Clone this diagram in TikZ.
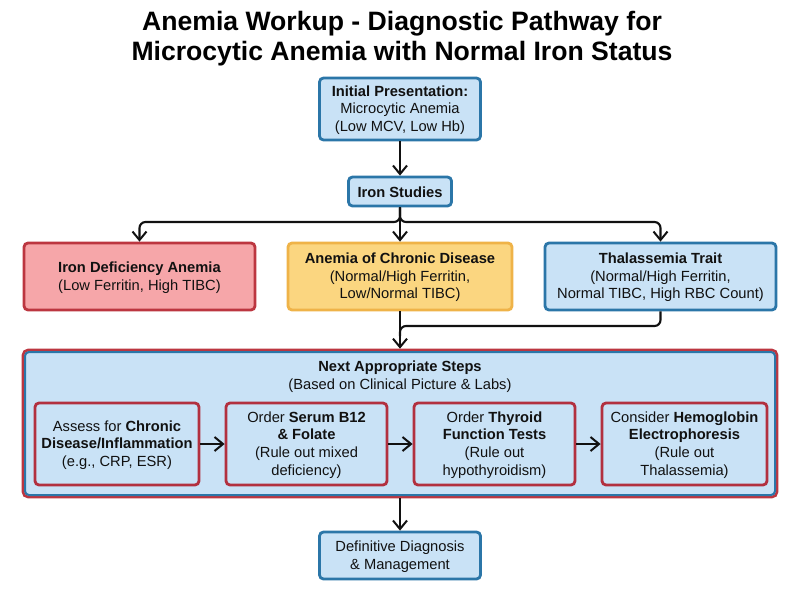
\documentclass[tikz,border=0pt]{standalone}
\usepackage{fontspec}
\setmainfont{Liberation Sans}
\usetikzlibrary{arrows.meta}
\definecolor{bluefill}{HTML}{C9E2F6}
\definecolor{blueedge}{HTML}{2B76A8}
\definecolor{redfill}{HTML}{F6A6A9}
\definecolor{rededge}{HTML}{BC3640}
\definecolor{yelfill}{HTML}{FBD680}
\definecolor{yeledge}{HTML}{EFB348}
\definecolor{inred}{HTML}{B2303F}
\definecolor{ink}{HTML}{111111}
\tikzset{
  x=1pt,y=-1pt,
  box/.style={draw=blueedge,fill=bluefill,line width=2.8pt,rounded corners=4pt,align=center,inner sep=0pt,text=ink,
    font=\fontsize{14.7}{17.6}\selectfont},
  redbox/.style={box,draw=rededge,fill=redfill},
  yelbox/.style={box,draw=yeledge,fill=yelfill},
  stepbox/.style={box,draw=inred},
  arr/.style={draw=ink,line width=2.1pt,-{Straight Barb[length=8.5pt,width=14pt,line width=2pt]}},
  lin/.style={draw=ink,line width=2.1pt},
}
\newcommand{\boxat}[7]{\node[#1,minimum width=#5pt-#3pt,minimum height=#6pt-#4pt] (#2) at ({(#3+#5)/2},{(#4+#6)/2}) {\rule{0pt}{12.5pt}#7};}
\begin{document}
\begin{tikzpicture}
\useasboundingbox (0,0) rectangle (800,600);
\fill[white] (0,0) rectangle (800,600);
\node[align=center,font=\fontsize{26.6}{30}\bfseries\selectfont,text=black,inner sep=0pt] (title) at (402,38.5)
  {Anemia Workup - Diagnostic Pathway for\\Microcytic Anemia with Normal Iron Status};
\boxat{box}{init}{319.5}{78}{480.5}{140}{\textbf{Initial Presentation:}\\Microcytic Anemia\\(Low MCV, Low Hb)}
\boxat{box}{iron}{348.5}{177}{451.5}{206}{\textbf{Iron Studies}}
\boxat{redbox}{ida}{24}{243}{255}{310}{\textbf{Iron Deficiency Anemia}\\(Low Ferritin, High TIBC)}
\boxat{yelbox}{acd}{288}{243}{512}{310}{\textbf{Anemia of Chronic Disease}\\(Normal/High Ferritin,\\Low/Normal TIBC)}
\boxat{box}{thal}{545}{243}{776}{310}{\textbf{Thalassemia Trait}\\(Normal/High Ferritin,\\Normal TIBC, High RBC Count)}
\boxat{box,draw=rededge,line width=2.6pt,rounded corners=5pt}{nextouter}{23}{350}{777}{497}{}
\boxat{box,line width=2pt,rounded corners=4pt}{nextinner}{25}{352}{775}{495}{}
\node[align=center,inner sep=0pt,text=ink,font=\fontsize{14.7}{17.6}\selectfont] (nexttitle) at (400,376.5)
  {\textbf{Next Appropriate Steps}\\(Based on Clinical Picture \& Labs)};
\boxat{stepbox}{s1}{35}{403}{199}{485}{Assess for \textbf{Chronic}\\\textbf{Disease/Inflammation}\\(e.g., CRP, ESR)}
\boxat{stepbox}{s2}{226}{403}{387}{485}{Order \textbf{Serum B12}\\\textbf{\& Folate}\\(Rule out mixed\\deficiency)}
\boxat{stepbox}{s3}{414}{403}{575}{485}{Order \textbf{Thyroid}\\\textbf{Function Tests}\\(Rule out\\hypothyroidism)}
\boxat{stepbox}{s4}{602}{403}{767}{485}{Consider \textbf{Hemoglobin}\\\textbf{Electrophoresis}\\(Rule out\\Thalassemia)}
\boxat{box}{final}{319.5}{532}{480.5}{579}{Definitive Diagnosis\\\& Management}
\coordinate (split) at (400,222);
\coordinate (merge) at (400,326);
\draw[arr] (init) -- (iron);
\draw[arr,rounded corners=6pt] (iron.south) -- (split) -| (ida.north);
\draw[arr,rounded corners=6pt] (iron.south) -- (split) -| (thal.north);
\draw[arr] (iron.south) -- (acd.north);
\draw[arr] (acd.south) -- (nextouter.north);
\draw[lin,rounded corners=6pt] (thal.south) |- (merge) -- ++(0,10);
\draw[arr] (s1) -- (s2);
\draw[arr] (s2) -- (s3);
\draw[arr] (s3) -- (s4);
\draw[arr] (nextouter.south) -- (final.north);
\end{tikzpicture}
\end{document}
